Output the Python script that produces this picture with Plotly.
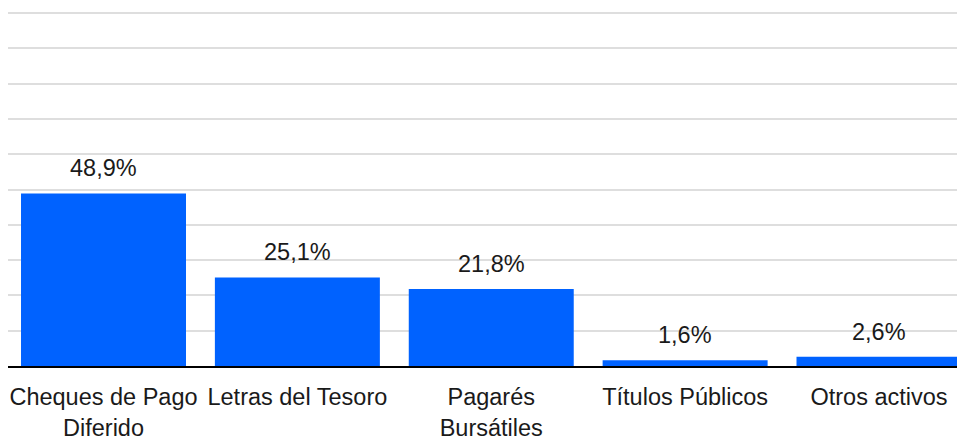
import plotly.graph_objects as go

# Composición de la cartera (% del total)
categorias = ["Cheques de Pago<br>Diferido", "Letras del Tesoro", "Pagarés<br>Bursátiles",
              "Títulos Públicos", "Otros activos"]
porcentajes = [48.9, 25.1, 21.8, 1.6, 2.6]
etiquetas = [f"{v:.1f}%".replace(".", ",") for v in porcentajes]

AZUL = "#0062ff"
TEXTO = "#1a1a1a"
FUENTE = "Liberation Sans, Arial, sans-serif"

fig = go.Figure(go.Bar(x=categorias, y=porcentajes, marker=dict(color=AZUL, line=dict(width=0)),
                       hoverinfo="skip"))

# Etiquetas de valor sobre cada barra
for cat, val, txt in zip(categorias, porcentajes, etiquetas):
    fig.add_annotation(x=cat, y=val, text=txt, showarrow=False, yanchor="bottom", yshift=10,
                       font=dict(size=23.5, color=TEXTO, family=FUENTE))

# la página deja 8px de margen en el body: figura de 957x430
fig.update_layout(width=957, height=430, margin=dict(l=0, r=0, t=4, b=72),
                  plot_bgcolor="white", paper_bgcolor="white", bargap=0.149,
                  showlegend=False, font=dict(family=FUENTE, size=23.5, color=TEXTO))
fig.update_xaxes(range=[-0.4926, 4.4436], tickangle=0, showline=True, linecolor="black", linewidth=2,
                 ticks="outside", ticklen=9, tickcolor="rgba(0,0,0,0)", showgrid=False,
                 automargin=False, tickfont=dict(size=23.5, color=TEXTO, family=FUENTE))
fig.update_yaxes(range=[0, 100.34], dtick=10, showticklabels=False, gridcolor="#dedede", gridwidth=2,
                 zeroline=False, fixedrange=True, automargin=False)

fig.write_html("out.html")
